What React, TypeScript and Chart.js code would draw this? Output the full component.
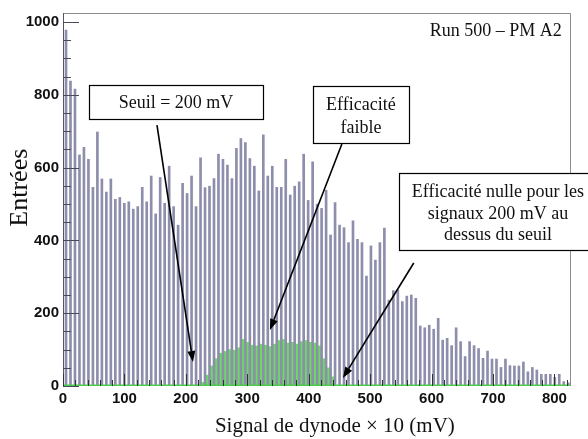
import React, { useEffect, useRef } from 'react';
import { Chart, registerables } from 'chart.js';

Chart.register(...registerables);

// ---- Data -------------------------------------------------------------
const BIN_START = 4.9; // centre of first bin (mV x 10)
const BIN_WIDTH = 7.3; // bin width
const X_MAX = 827;
const Y_MAX = 1025;
const X_TICK_LABELS = [0, 100, 200, 300, 400, 500, 600, 700, 800];
const Y_TICK_LABELS = [0, 200, 400, 600, 800, 1000];

// All triggers (grey histogram)
const ENTRIES = [
  978, 838, 816, 635, 656, 623, 546, 698, 569, 533,
  569, 513, 518, 502, 506, 486, 493, 546, 506, 577,
  473, 573, 502, 604, 493, 442, 557, 529, 577, 493,
  627, 545, 549, 570, 637, 623, 607, 570, 653, 680,
  669, 625, 604, 536, 690, 577, 604, 546, 546, 623,
  525, 549, 561, 637, 510, 616, 500, 488, 538, 415,
  504, 442, 435, 394, 454, 403, 394, 302, 385, 346,
  394, 434, 236, 262, 264, 232, 247, 250, 241, 165,
  160, 167, 156, 186, 126, 131, 111, 160, 122, 81,
  122, 111, 103, 76, 96, 74, 74, 51, 74, 56,
  55, 55, 66, 39, 51, 44, 32, 32, 32, 24,
  32, 12, 9,
];

// Triggered events (green histogram), starting at bin GREEN_FIRST_BIN
const GREEN_FIRST_BIN = 30;
const GREEN_ENTRIES = [
  10, 30, 55, 75, 90, 95, 100, 98, 105, 128,
  120, 112, 110, 115, 112, 108, 115, 125, 128, 118,
  120, 115, 122, 125, 120, 118, 110, 75, 50, 25,
];

// ---- Annotations (data coordinates) ----------------------------------
const RUN_LABEL = 'Run 500 – PM A2';
const X_TITLE = 'Signal de dynode × 10 (mV)';
const Y_TITLE = 'Entrées';

const BOXES = [
  { x0: 42.3, x1: 325.5, y0: 827, y1: 733.5, cx: 184, lines: [{ t: 'Seuil = 200 mV', y: 763 }] },
  { x0: 406.8, x1: 563, y0: 824, y1: 667.6, cx: 485, lines: [{ t: 'Efficacité', y: 758 }, { t: 'faible', y: 695 }] },
  {
    x0: 546.8, x1: 880, y0: 585, y1: 373.6, cx: 708,
    lines: [
      { t: 'Efficacité nulle pour les', y: 520 },
      { t: 'signaux 200 mV au', y: 458 },
      { t: 'dessus du seuil', y: 401 },
    ],
  },
];

const ARROWS = [
  { fx: 153, fy: 717, tx: 211.6, ty: 66 },
  { fx: 454, fy: 665, tx: 336.9, ty: 154 },
  { fx: 571, fy: 338, tx: 455.7, ty: 22 },
];

// ---- Styles ------------------------------------------------------------
const GRAY = '#8d8dac';
const GREEN = '#6add60';
const GREEN_LINE = '#4ccc4c';
const SERIF = '"Liberation Serif", "Times New Roman", serif';
const SANS = '"Liberation Sans", Arial, sans-serif';

const overlayPlugin = {
  id: 'overlay',
  afterDatasetsDraw(chart: any) {
    const { ctx, chartArea: a, scales } = chart;
    const x = scales.x;
    const y = scales.y;
    ctx.save();
    // frame
    ctx.lineWidth = 1;
    ctx.strokeStyle = '#8c8c8c';
    ctx.beginPath();
    ctx.moveTo(a.left, a.top + 0.5);
    ctx.lineTo(a.right - 0.5, a.top + 0.5);
    ctx.lineTo(a.right - 0.5, a.bottom);
    ctx.stroke();
    ctx.strokeStyle = '#555566';
    ctx.beginPath();
    ctx.moveTo(a.left + 0.5, a.top);
    ctx.lineTo(a.left + 0.5, a.bottom);
    ctx.stroke();
    // y inner ticks
    ctx.strokeStyle = '#4a4a5a';
    for (let v = 0; v <= 1000; v += 50) {
      const py = Math.round(y.getPixelForValue(v)) + 0.5;
      const len = v % 200 === 0 ? 16 : 8;
      ctx.beginPath();
      ctx.moveTo(a.left, py);
      ctx.lineTo(a.left + len, py);
      ctx.stroke();
    }
    // x inner ticks
    ctx.strokeStyle = '#333';
    for (let v = 0; v <= 820; v += 20) {
      const px = Math.round(x.getPixelForValue(v)) + 0.5;
      const len = v % 100 === 0 ? 12 : 6;
      ctx.beginPath();
      ctx.moveTo(px, a.bottom);
      ctx.lineTo(px, a.bottom - len);
      ctx.stroke();
    }
    ctx.restore();
  },
  afterDraw(chart: any) {
    const { ctx, scales } = chart;
    const x = scales.x;
    const y = scales.y;
    ctx.save();
    // run label
    ctx.fillStyle = '#111';
    ctx.font = `18px ${SERIF}`;
    ctx.textAlign = 'right';
    ctx.textBaseline = 'alphabetic';
    ctx.fillText(RUN_LABEL, x.getPixelForValue(812), y.getPixelForValue(961.5));

    // arrows
    ctx.strokeStyle = '#000';
    ctx.fillStyle = '#000';
    ctx.lineWidth = 1.6;
    for (const ar of ARROWS) {
      const fx = x.getPixelForValue(ar.fx);
      const fy = y.getPixelForValue(ar.fy);
      const tx = x.getPixelForValue(ar.tx);
      const ty = y.getPixelForValue(ar.ty);
      const ang = Math.atan2(ty - fy, tx - fx);
      const hl = 11;
      const hw = 4;
      const bx = tx - Math.cos(ang) * hl;
      const by = ty - Math.sin(ang) * hl;
      ctx.beginPath();
      ctx.moveTo(fx, fy);
      ctx.lineTo(bx, by);
      ctx.stroke();
      ctx.beginPath();
      ctx.moveTo(tx, ty);
      ctx.lineTo(bx + Math.sin(ang) * hw, by - Math.cos(ang) * hw);
      ctx.lineTo(bx - Math.sin(ang) * hw, by + Math.cos(ang) * hw);
      ctx.closePath();
      ctx.fill();
    }

    // boxes
    ctx.font = `18px ${SERIF}`;
    ctx.textAlign = 'center';
    for (const b of BOXES) {
      const l = Math.round(x.getPixelForValue(b.x0)) + 0.5;
      const r = Math.round(x.getPixelForValue(b.x1)) + 0.5;
      const t = Math.round(y.getPixelForValue(b.y0)) + 0.5;
      const bt = Math.round(y.getPixelForValue(b.y1)) + 0.5;
      ctx.fillStyle = '#fff';
      ctx.fillRect(l, t, r - l, bt - t);
      ctx.strokeStyle = '#000';
      ctx.lineWidth = 1.2;
      ctx.strokeRect(l, t, r - l, bt - t);
      ctx.fillStyle = '#111';
      for (const ln of b.lines) {
        ctx.fillText(ln.t, x.getPixelForValue(b.cx), y.getPixelForValue(ln.y));
      }
    }

    // axis titles
    ctx.fillStyle = '#111';
    ctx.font = `21px ${SERIF}`;
    ctx.textAlign = 'center';
    ctx.textBaseline = 'alphabetic';
    ctx.fillText(X_TITLE, x.getPixelForValue(442.6), 432);
    ctx.save();
    ctx.translate(27, y.getPixelForValue(545));
    ctx.rotate(-Math.PI / 2);
    ctx.font = `26px ${SERIF}`;
    ctx.fillText(Y_TITLE, 0, 0);
    ctx.restore();
    ctx.restore();
  },
};

export default function App() {
  const ref = useRef<HTMLCanvasElement>(null);
  useEffect(() => {
    const canvas = ref.current;
    if (!canvas) return;
    const grayData = ENTRIES.map((v, i) => ({ x: BIN_START + i * BIN_WIDTH, y: v }));
    const greenData = GREEN_ENTRIES.map((v, i) => ({
      x: BIN_START + (GREEN_FIRST_BIN + i + 0.5) * BIN_WIDTH,
      y: v,
    }));
    const chart = new Chart(canvas, {
      type: 'bar',
      data: {
        datasets: [
          {
            type: 'line',
            data: [{ x: 0, y: 0 }, { x: X_MAX, y: 0 }],
            borderColor: GREEN_LINE,
            borderWidth: 3,
            pointRadius: 0,
            order: 0,
          } as any,
          {
            type: 'bar',
            data: grayData,
            backgroundColor: GRAY,
            barThickness: 2,
            grouped: false,
            order: 1,
          } as any,
          {
            type: 'bar',
            data: greenData,
            backgroundColor: GREEN,
            barThickness: 2.5,
            grouped: false,
            order: 2,
          } as any,
        ],
      },
      options: {
        responsive: false,
        animation: false,
        devicePixelRatio: 1,
        layout: { padding: { left: 0, top: 13, right: 17, bottom: 0 } },
        plugins: { legend: { display: false }, tooltip: { enabled: false } },
        scales: {
          x: {
            type: 'linear',
            min: 0,
            max: X_MAX,
            offset: false,
            grid: { display: false, drawTicks: false },
            border: { display: false },
            afterBuildTicks: (s: any) => {
              s.ticks = X_TICK_LABELS.map((v) => ({ value: v }));
            },
            ticks: {
              padding: 4,
              maxRotation: 0,
              autoSkip: false,
              color: '#111',
              font: { family: SANS, size: 15, weight: 'bold' },
              callback: (v: any) => String(v),
            },
            afterFit: (s: any) => {
              s.height = 53;
            },
          },
          y: {
            type: 'linear',
            min: 0,
            max: Y_MAX,
            grid: { display: false, drawTicks: false },
            border: { display: false },
            afterBuildTicks: (s: any) => {
              s.ticks = Y_TICK_LABELS.map((v) => ({ value: v }));
            },
            ticks: {
              padding: 4,
              color: '#111',
              font: { family: SANS, size: 15, weight: 'bold' },
              callback: (v: any) => String(v),
            },
            afterFit: (s: any) => {
              s.width = 63;
            },
          },
        },
      } as any,
      plugins: [overlayPlugin],
    });
    return () => chart.destroy();
  }, []);
  return (
    <div style={{ position: 'fixed', left: 0, top: 0, width: 588, height: 439, background: '#fff' }}>
      <canvas ref={ref} width={588} height={439} />
    </div>
  );
}
